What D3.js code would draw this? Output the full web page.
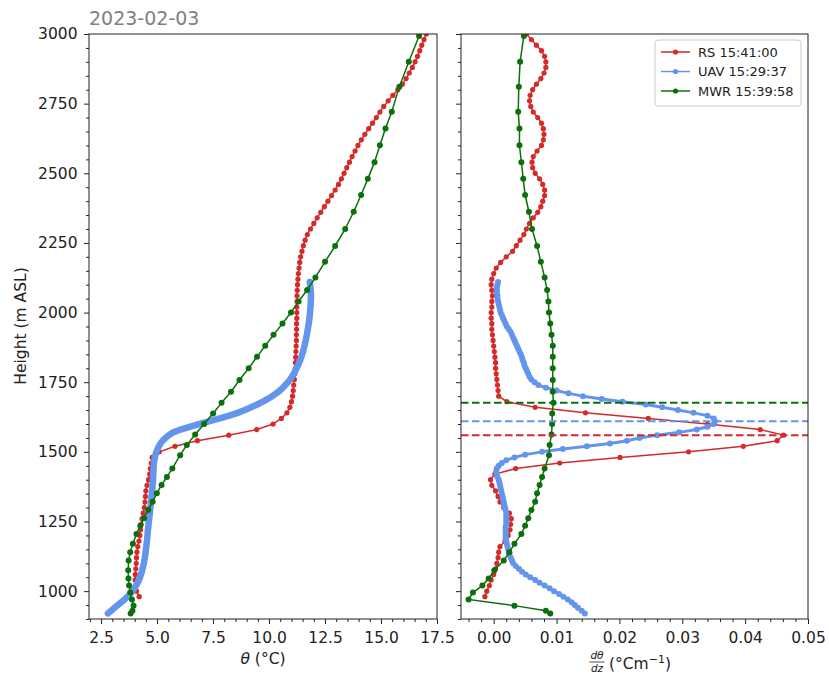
<!DOCTYPE html>
<html><head><meta charset="utf-8">
<script src="https://cdn.jsdelivr.net/npm/d3@7"></script>
<style>
html,body{margin:0;padding:0;background:#fff;}
svg{display:block;font-family:"DejaVu Sans",sans-serif;}
</style></head>
<body>
<svg id="chart" width="829" height="682"></svg>
<script>
// ---------------- data ----------------
const titleText = "2023-02-03";
const seriesNames = ["RS 15:41:00", "UAV 15:29:37", "MWR 15:39:58"];
const seriesColors = ["#d42a2a", "#6495ed", "#0b700b"];

const yTicks = [1000, 1250, 1500, 1750, 2000, 2250, 2500, 2750, 3000];
const thetaTicks = [2.5, 5.0, 7.5, 10.0, 12.5, 15.0, 17.5];
const gradTicks = [0.00, 0.01, 0.02, 0.03, 0.04, 0.05];

// Radiosonde (RS)
const rsHeight = [980,1000,1020,1040,1060,1080,1100,1120,1140,1160,
 1180,1200,1220,1240,1260,1280,1300,1320,1340,1360,
 1380,1400,1420,1440,1460,1480,1500,1520,1540,1560,
 1580,1600,1620,1640,1660,1680,1700,1720,1740,1760,
 1780,1800,1820,1840,1860,1880,1900,1920,1940,1960,
 1980,2000,2020,2040,2060,2080,2100,2120,2140,2160,
 2180,2200,2220,2240,2260,2280,2300,2320,2340,2360,
 2380,2400,2420,2440,2460,2480,2500,2520,2540,2560,
 2580,2600,2620,2640,2660,2680,2700,2720,2740,2760,
 2780,2800,2820,2840,2860,2880,2900,2920,2940,2960,
 2980,3000];
const rsTheta = [4.2,4.08,4.05,4.02,4.03,4.05,4.07,4.08,4.1,4.14,
 4.19,4.23,4.26,4.29,4.33,4.38,4.43,4.46,4.48,4.5,
 4.55,4.62,4.67,4.7,4.74,4.78,5.1,5.8,6.8,8.2,
 9.45,10.18,10.55,10.8,10.93,11.0,11.05,11.08,11.1,11.13,
 11.15,11.17,11.18,11.19,11.2,11.21,11.22,11.22,11.23,11.23,
 11.24,11.24,11.24,11.25,11.25,11.26,11.27,11.29,11.31,11.34,
 11.37,11.41,11.47,11.53,11.61,11.71,11.85,12.0,12.15,12.31,
 12.47,12.63,12.79,12.95,13.1,13.23,13.35,13.47,13.59,13.71,
 13.84,13.97,14.12,14.28,14.45,14.62,14.79,14.95,15.12,15.32,
 15.53,15.75,15.95,16.12,16.26,16.4,16.52,16.63,16.73,16.82,
 16.92,17.02];
const rsGrad = [-0.0014,-0.0011,-0.0007,-0.0004,0.0,0.0003,0.0005,0.0007,0.0008,0.001,
 0.0018,0.0023,0.0026,0.0027,0.0028,0.0025,0.0016,0.001,0.0007,0.0003,
 -0.0003,-0.0005,0.0002,0.0035,0.0105,0.0201,0.031,0.0397,0.0451,0.0461,
 0.0424,0.034,0.0246,0.0146,0.0066,0.0021,0.0008,0.0007,0.0006,0.0005,
 0.0004,0.0003,0.0003,0.0002,0.0001,0.0,-0.0001,-0.0002,-0.0003,-0.0003,
 -0.0004,-0.0004,-0.0003,-0.0003,-0.0002,-0.0003,-0.0004,-0.0003,0.0,0.0004,
 0.0011,0.002,0.003,0.0036,0.0042,0.0048,0.0052,0.0057,0.0063,0.007,
 0.0075,0.0078,0.0081,0.0081,0.0078,0.0073,0.0066,0.0062,0.0061,0.0063,
 0.0069,0.0076,0.0079,0.008,0.0079,0.0076,0.007,0.0063,0.0059,0.0057,
 0.0058,0.0062,0.0068,0.0075,0.008,0.0083,0.0083,0.0081,0.0076,0.0068,
 0.006,0.0052];

// UAV
const uavHeight = [920,930,940,950,960,970,980,990,1000,1010,
 1020,1030,1040,1050,1060,1070,1080,1090,1100,1110,
 1120,1130,1140,1150,1160,1170,1180,1190,1200,1210,
 1220,1230,1240,1250,1260,1270,1280,1290,1300,1310,
 1320,1330,1340,1350,1360,1370,1380,1390,1400,1410,
 1420,1430,1440,1450,1460,1470,1480,1490,1500,1510,
 1520,1530,1540,1550,1560,1570,1580,1590,1600,1610,
 1620,1630,1640,1650,1660,1670,1680,1690,1700,1710,
 1720,1730,1740,1750,1760,1770,1780,1790,1800,1810,
 1820,1830,1840,1850,1860,1870,1880,1890,1900,1910,
 1920,1930,1940,1950,1960,1970,1980,1990,2000,2010,
 2020,2030,2040,2050,2060,2070,2080,2090,2100,2110];
const uavTheta = [2.8,2.95,3.1,3.25,3.4,3.55,3.68,3.8,3.9,3.98,
 4.06,4.13,4.19,4.24,4.28,4.32,4.35,4.38,4.41,4.43,
 4.45,4.47,4.49,4.5,4.52,4.53,4.55,4.56,4.57,4.58,
 4.59,4.61,4.62,4.63,4.65,4.66,4.68,4.69,4.7,4.72,
 4.73,4.74,4.75,4.77,4.78,4.79,4.8,4.81,4.82,4.82,
 4.83,4.84,4.84,4.85,4.86,4.88,4.9,4.93,4.97,5.02,
 5.08,5.15,5.25,5.38,5.52,5.72,6.05,6.45,6.9,7.35,
 7.8,8.22,8.6,8.92,9.2,9.47,9.72,9.94,10.14,10.32,
 10.48,10.61,10.73,10.84,10.94,11.02,11.1,11.17,11.23,11.29,
 11.34,11.39,11.44,11.48,11.52,11.55,11.58,11.61,11.64,11.66,
 11.69,11.71,11.73,11.75,11.77,11.79,11.8,11.82,11.83,11.84,
 11.85,11.86,11.86,11.87,11.87,11.87,11.86,11.85,11.84,11.82];
const uavGrad = [0.0145,0.014,0.0134,0.0129,0.0124,0.0118,0.0111,0.0104,0.0096,0.0089,
 0.0081,0.0073,0.0066,0.0058,0.0051,0.0045,0.004,0.0035,0.0031,0.0029,
 0.0027,0.0025,0.0024,0.0023,0.0022,0.0021,0.002,0.0019,0.0019,0.0019,
 0.0019,0.0019,0.002,0.002,0.002,0.002,0.002,0.0019,0.0018,0.0017,
 0.0016,0.0015,0.0014,0.0013,0.0012,0.0011,0.001,0.0009,0.0008,0.0006,
 0.0005,0.0004,0.0005,0.0008,0.0013,0.002,0.0033,0.005,0.0077,0.011,
 0.0148,0.0185,0.0212,0.0232,0.026,0.0295,0.0323,0.034,0.035,0.0352,
 0.035,0.034,0.0318,0.0293,0.0268,0.0242,0.0205,0.0172,0.0142,0.0119,
 0.01,0.0083,0.0071,0.0065,0.006,0.0057,0.0055,0.0053,0.0051,0.0049,
 0.0048,0.0046,0.0045,0.0043,0.0041,0.0039,0.0037,0.0035,0.0033,0.0031,
 0.0029,0.0027,0.0024,0.0021,0.0019,0.0017,0.0015,0.0013,0.0011,0.001,
 0.0009,0.0008,0.0007,0.0006,0.0006,0.0005,0.0005,0.0005,0.0006,0.0007];

// Microwave radiometer (MWR)
const mwrHeight = [920,930,948,970,995,1020,1045,1075,1110,1140,
 1170,1205,1235,1262,1291,1321,1351,1381,1410,1440,
 1488,1525,1562,1600,1638,1676,1716,1758,1800,1841,
 1881,1920,1961,2000,2040,2081,2126,2182,2239,2300,
 2362,2422,2480,2540,2601,2661,2721,2811,2900,2993];
const mwrTheta = [3.82,3.9,3.95,3.88,3.8,3.75,3.72,3.71,3.73,3.8,
 3.92,4.08,4.25,4.42,4.6,4.8,4.99,5.2,5.44,5.68,
 6.03,6.33,6.7,7.1,7.5,7.88,8.3,8.68,9.09,9.46,
 9.83,10.2,10.6,10.98,11.32,11.7,12.07,12.5,12.95,13.4,
 13.78,14.11,14.41,14.71,14.95,15.2,15.48,15.82,16.24,16.7];
const mwrGrad = [0.009,0.0083,0.0033,-0.004,-0.0033,-0.0018,-0.0008,0.0001,0.0016,0.0025,
 0.0033,0.0044,0.005,0.0055,0.006,0.0066,0.0069,0.0073,0.0077,0.0081,
 0.0088,0.0089,0.0092,0.0093,0.0093,0.0095,0.0094,0.0094,0.0094,0.0094,
 0.0094,0.0092,0.009,0.0088,0.0087,0.0085,0.0081,0.0075,0.0069,0.0061,
 0.0056,0.005,0.0047,0.0044,0.0041,0.0041,0.0039,0.004,0.0042,0.0048];

// ---------------- layout ----------------
const svg = d3.select("#chart");
const plotTop = 34, plotBottom = 619;
const Lp = {x0: 89, x1: 437};
const Rp = {x0: 461, x1: 808};
const FS = 15.5;
const tickColor = "#222";

const y = d3.scaleLinear().domain([900, 3000]).range([plotBottom, plotTop]);
const xL = d3.scaleLinear().domain([1.96, 17.5]).range([Lp.x0, Lp.x1]);
const xR = d3.scaleLinear().domain([-0.0052, 0.05]).range([Rp.x0, Rp.x1]);

const defs = svg.append("defs");
[["clipL", Lp], ["clipR", Rp]].forEach(([id, p]) => {
  defs.append("clipPath").attr("id", id).append("rect")
    .attr("x", p.x0).attr("y", plotTop).attr("width", p.x1 - p.x0).attr("height", plotBottom - plotTop);
});

function zip(h, v) { return h.map((d, i) => ({h: d, v: v[i]})); }
const rsT = zip(rsHeight, rsTheta), uavT = zip(uavHeight, uavTheta), mwrT = zip(mwrHeight, mwrTheta);
const rsG = zip(rsHeight, rsGrad), uavG = zip(uavHeight, uavGrad), mwrG = zip(mwrHeight, mwrGrad);

function styleAxis(g) {
  g.select(".domain").remove();
  g.selectAll(".tick line").attr("stroke", tickColor).attr("stroke-width", 1);
  g.selectAll(".tick text").attr("fill", tickColor).style("font-size", FS + "px")
    .style("font-family", "DejaVu Sans");
}

function minorRange(a, b, step) {
  const out = [];
  const n0 = Math.ceil(a / step - 1e-9), n1 = Math.floor(b / step + 1e-9);
  for (let n = n0; n <= n1; n++) out.push(+(n * step).toFixed(6));
  return out;
}

function drawPanel(p, x, xTicks, xFmt, minorStep, showYLabels) {
  const ya = svg.append("g").attr("transform", `translate(${p.x0},0)`)
    .call(d3.axisLeft(y).tickValues(yTicks).tickSize(5).tickPadding(6.5)
      .tickFormat(showYLabels ? d3.format("d") : () => ""));
  styleAxis(ya);
  const yMinor = minorRange(900, 3000, 50).filter(v => !yTicks.includes(v));
  const ym = svg.append("g").attr("transform", `translate(${p.x0},0)`)
    .call(d3.axisLeft(y).tickValues(yMinor).tickSize(3).tickFormat(() => ""));
  styleAxis(ym);
  const xa = svg.append("g").attr("transform", `translate(0,${plotBottom})`)
    .call(d3.axisBottom(x).tickValues(xTicks).tickSize(5).tickPadding(7.5).tickFormat(xFmt));
  styleAxis(xa);
  const [d0, d1] = x.domain();
  const xMinor = minorRange(d0, d1, minorStep).filter(v => !xTicks.some(t => Math.abs(t - v) < minorStep / 10));
  const xm = svg.append("g").attr("transform", `translate(0,${plotBottom})`)
    .call(d3.axisBottom(x).tickValues(xMinor).tickSize(3).tickFormat(() => ""));
  styleAxis(xm);
}

drawPanel(Lp, xL, thetaTicks, d3.format(".1f"), 0.5, true);
drawPanel(Rp, xR, gradTicks, d3.format(".2f"), 0.002, false);

// ---------------- left panel data ----------------
const gL = svg.append("g").attr("clip-path", "url(#clipL)");
const lineL = d3.line().x(d => xL(d.v)).y(d => y(d.h));

gL.append("path").datum(rsT).attr("d", lineL).attr("fill", "none")
  .attr("stroke", seriesColors[0]).attr("stroke-width", 1.5);
gL.selectAll("circle.rs").data(rsT).join("circle").attr("class", "rs")
  .attr("cx", d => xL(d.v)).attr("cy", d => y(d.h)).attr("r", 2.6).attr("fill", seriesColors[0]);

gL.append("path").datum(uavT).attr("d", lineL).attr("fill", "none")
  .attr("stroke", seriesColors[1]).attr("stroke-width", 6.5)
  .attr("stroke-linejoin", "round").attr("stroke-linecap", "round");

gL.append("path").datum(mwrT).attr("d", lineL).attr("fill", "none")
  .attr("stroke", seriesColors[2]).attr("stroke-width", 1.5);
gL.selectAll("circle.mwr").data(mwrT).join("circle").attr("class", "mwr")
  .attr("cx", d => xL(d.v)).attr("cy", d => y(d.h)).attr("r", 3).attr("fill", seriesColors[2]);

// ---------------- right panel data ----------------
const gR = svg.append("g").attr("clip-path", "url(#clipR)");
const lineR = d3.line().x(d => xR(d.v)).y(d => y(d.h));

gR.append("path").datum(rsG).attr("d", lineR).attr("fill", "none")
  .attr("stroke", seriesColors[0]).attr("stroke-width", 1.5);
gR.selectAll("circle.rs").data(rsG).join("circle").attr("class", "rs")
  .attr("cx", d => xR(d.v)).attr("cy", d => y(d.h)).attr("r", 2.6).attr("fill", seriesColors[0]);

gR.append("path").datum(uavG).attr("d", lineR).attr("fill", "none")
  .attr("stroke", seriesColors[1]).attr("stroke-width", 3)
  .attr("stroke-linejoin", "round");
gR.selectAll("circle.uav").data(uavG).join("circle").attr("class", "uav")
  .attr("cx", d => xR(d.v)).attr("cy", d => y(d.h)).attr("r", 3).attr("fill", seriesColors[1]);

gR.append("path").datum(mwrG).attr("d", lineR).attr("fill", "none")
  .attr("stroke", seriesColors[2]).attr("stroke-width", 1.5);
gR.selectAll("circle.mwr").data(mwrG).join("circle").attr("class", "mwr")
  .attr("cx", d => xR(d.v)).attr("cy", d => y(d.h)).attr("r", 3).attr("fill", seriesColors[2]);

// heights of maximum gradient (dashed lines)
const peakHeights = [rsG, uavG, mwrG].map(s => s[d3.maxIndex(s, d => d.v)].h);
peakHeights.forEach((h, i) => {
  gR.append("line").attr("x1", Rp.x0).attr("x2", Rp.x1).attr("y1", y(h)).attr("y2", y(h))
    .attr("stroke", seriesColors[i]).attr("stroke-width", 2).attr("stroke-dasharray", "7.5,3.5");
});

// ---------------- frames ----------------
[Lp, Rp].forEach(p => {
  svg.append("rect").attr("x", p.x0).attr("y", plotTop).attr("width", p.x1 - p.x0).attr("height", plotBottom - plotTop)
    .attr("fill", "none").attr("stroke", "#222").attr("stroke-width", 1);
});

// ---------------- texts ----------------
svg.append("text").attr("x", Lp.x0).attr("y", 25).text(titleText)
  .attr("fill", "#808080").style("font-size", "19px");

svg.append("text").attr("transform", "translate(26,326) rotate(-90)").attr("text-anchor", "middle")
  .attr("fill", tickColor).style("font-size", FS + "px").text("Height (m ASL)");

const xl = svg.append("text").attr("x", (Lp.x0 + Lp.x1) / 2).attr("y", 664).attr("text-anchor", "middle")
  .attr("fill", tickColor).style("font-size", FS + "px");
xl.append("tspan").attr("font-style", "italic").text("θ");
xl.append("tspan").text(" (°C)");

const fx = 597;
svg.append("text").attr("x", fx).attr("y", 659).attr("text-anchor", "middle")
  .attr("fill", tickColor).style("font-size", "10.5px").attr("font-style", "italic").text("dθ");
svg.append("line").attr("x1", fx - 7.5).attr("x2", fx + 7.5).attr("y1", 662).attr("y2", 662)
  .attr("stroke", tickColor).attr("stroke-width", 0.8);
svg.append("text").attr("x", fx).attr("y", 672).attr("text-anchor", "middle")
  .attr("fill", tickColor).style("font-size", "10.5px").attr("font-style", "italic").text("dz");
const xr = svg.append("text").attr("x", 609).attr("y", 669)
  .attr("fill", tickColor).style("font-size", FS + "px");
xr.append("tspan").text(" (°Cm");
xr.append("tspan").attr("dy", -6).style("font-size", "11px").text("−1");
xr.append("tspan").attr("dy", 6).text(")");

// ---------------- legend ----------------
const lg = svg.append("g");
lg.append("rect").attr("x", 655).attr("y", 40).attr("width", 146).attr("height", 66).attr("rx", 3)
  .attr("fill", "#fff").attr("fill-opacity", 0.8).attr("stroke", "#ccc").attr("stroke-width", 1);
const rowsY = [52, 71.5, 91];
seriesNames.forEach((name, i) => {
  lg.append("line").attr("x1", 661).attr("x2", 690).attr("y1", rowsY[i]).attr("y2", rowsY[i])
    .attr("stroke", seriesColors[i]).attr("stroke-width", 1.5);
  lg.append("circle").attr("cx", 675.5).attr("cy", rowsY[i]).attr("r", 2.6).attr("fill", seriesColors[i]);
  lg.append("text").attr("x", 698).attr("y", rowsY[i] + 4.6).text(name)
    .attr("fill", tickColor).style("font-size", "13px");
});
</script>
</body></html>
